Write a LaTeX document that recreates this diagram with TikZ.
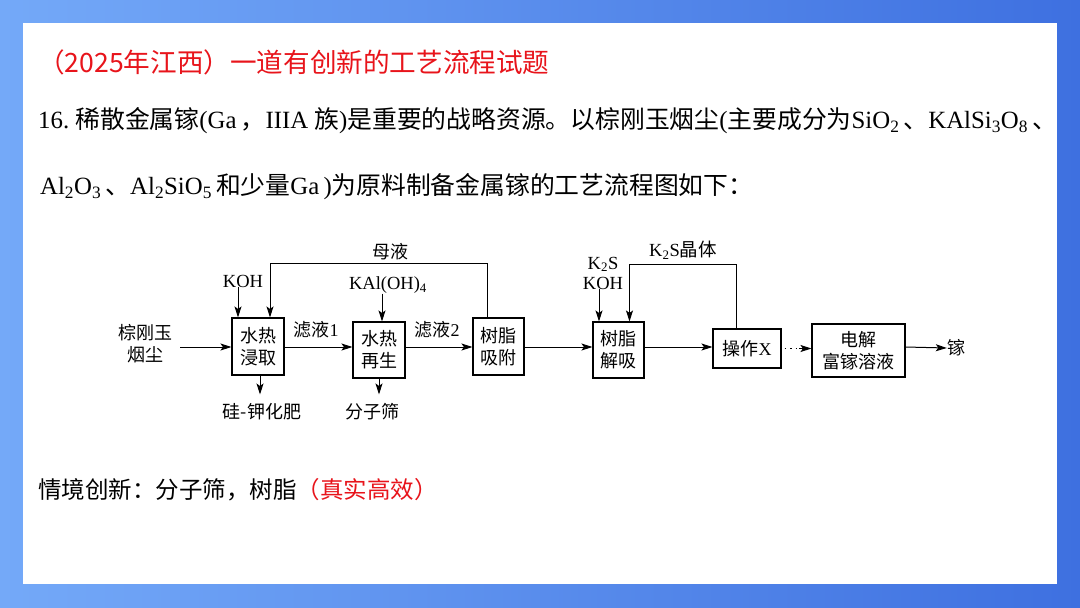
\documentclass[tikz,border=0pt]{standalone}
\usepackage{fontspec}
\setmainfont{Liberation Serif}
\newfontfamily\cjk{Noto Sans CJK SC}
\usetikzlibrary{arrows.meta}
\definecolor{titlered}{HTML}{E8141B}
\definecolor{bgleft}{HTML}{74A9F8}
\definecolor{bgright}{HTML}{3E70E0}
\newcommand{\zh}[1]{{\cjk #1}}
\newcommand{\chsub}[1]{\textsubscript{#1}}
\tikzset{
  proc/.style={draw, line width=1.1pt, align=center, inner sep=0pt, font=\fontsize{18}{22}\selectfont\cjk},
  lbl/.style={inner sep=0pt, align=center, font=\fontsize{18.5}{20}\selectfont},
  arr/.style={line width=1pt, -{Stealth[length=11pt,width=7pt,inset=2.5pt]}},
  qtext/.style={anchor=west, inner sep=0pt, font=\fontsize{24.8}{28}\selectfont},
}
\begin{document}
\begin{tikzpicture}[x=1pt,y=-1pt]
  % background and panel
  \shade[left color=bgleft, right color=bgright] (0,0) rectangle (1080,608);
  \fill[white] (23,23) rectangle (1057,584);
  \useasboundingbox (0,0) rectangle (1080,608);

  % heading and question
  \node[anchor=west, inner sep=0pt, text=titlered, font=\fontsize{26.6}{30}\selectfont\cjk] (title) at (38,62) {（2025年江西）一道有创新的工艺流程试题};
  \node[qtext] (q1) at (38,121) {16.\ \zh{稀散金属镓}(Ga\,\zh{，}IIIA \zh{族})\zh{是重要的战略资源。以棕刚玉烟尘}(\zh{主要成分为}SiO\chsub{2}\,\zh{、}KAlSi\chsub{3}O\chsub{8}\,\zh{、}};
  \node[qtext] (q2) at (40,187) {Al\chsub{2}O\chsub{3}\,\zh{、}Al\chsub{2}SiO\chsub{5}\,\zh{和少量}Ga\,)\zh{为原料制备金属镓的工艺流程图如下：}};

  % flow sheet
  \coordinate (flow) at (0,347);
  \node[lbl, font=\fontsize{18}{22}\selectfont\cjk] (dust) at (145,344) {棕刚玉\\烟尘};
  \node[proc, minimum width=52pt, minimum height=57pt] (leach) at (258,346.5) {水热\\浸取};
  \node[proc, minimum width=52pt, minimum height=56pt] (regen) at (379,350) {水热\\再生};
  \node[proc, minimum width=51pt, minimum height=57pt] (adsorb) at (498.5,346.5) {树脂\\吸附};
  \node[proc, minimum width=51pt, minimum height=56pt] (desorb) at (618.5,350) {树脂\\解吸};
  \node[proc, minimum width=68pt, minimum height=39pt] (opx) at (747,348.5) {操作{\rmfamily X}};
  \node[proc, minimum width=93pt, minimum height=53pt] (elec) at (858.5,350.5) {电解\\富镓溶液};
  \node[lbl, font=\fontsize{18}{22}\selectfont\cjk] (ga) at (956,348) {镓};

  \node[lbl] (koh1) at (243,281) {KOH};
  \node[lbl] (kal) at (388,285) {KAl(OH)\chsub{4}};
  \node[lbl] (kk) at (603,273) {K\chsub{2}S\\KOH};
  \node[lbl, font=\fontsize{18}{20}\selectfont\cjk] (mother) at (390,252) {母液};
  \node[lbl] (crystal) at (683,250) {K\chsub{2}S\zh{晶体}};
  \node[lbl, font=\fontsize{18}{20}\selectfont\cjk] (f1) at (316,330) {滤液{\rmfamily 1}};
  \node[lbl, font=\fontsize{18}{20}\selectfont\cjk] (f2) at (437,330) {滤液{\rmfamily 2}};
  \node[lbl, font=\fontsize{18}{20}\selectfont\cjk] (fert) at (262,412) {硅-钾化肥};
  \node[lbl, font=\fontsize{18}{20}\selectfont\cjk] (sieve) at (372,412) {分子筛};

  \draw[arr] ([xshift=8pt]dust.east |- flow) -- (leach.west |- flow);
  \draw[arr] (leach.east |- flow) -- (regen.west |- flow);
  \draw[arr] (regen.east |- flow) -- (adsorb.west |- flow);
  \draw[arr] (adsorb.east |- flow) -- (desorb.west |- flow);
  \draw[arr] (desorb.east |- flow) -- (opx.west |- flow);
  \draw[line width=1.3pt, dash pattern=on 1.5pt off 4pt] ([xshift=3pt]opx.east) -- ([xshift=-12pt]elec.west |- opx.east);
  \draw[arr] ([xshift=-12pt]elec.west |- opx.east) -- (elec.west |- opx.east);
  \draw[arr] (elec.east |- flow) -- (ga.west);

  \draw[arr] ([xshift=-5pt]koh1.south) -- ([xshift=-5pt]koh1.south |- leach.north);
  \draw[arr] ([xshift=-6pt]kal.south) -- ([xshift=-6pt]kal.south |- regen.north);
  \draw[arr] ([xshift=-4pt]kk.south) -- ([xshift=-4pt]kk.south |- desorb.north);
  \draw[arr] ([xshift=2pt]leach.south) -- ([xshift=2pt,yshift=9pt]leach.south |- fert.north);
  \draw[arr] (regen.south) -- ([yshift=9pt]regen.south |- sieve.north);
  \draw[arr] ([xshift=-11pt]adsorb.north) |- ([yshift=-3pt]mother.south) -| ([xshift=12pt]leach.north);
  \draw[arr] ([xshift=-11pt]opx.north) |- ([yshift=-5pt]crystal.south) -| ([xshift=11pt]desorb.north);

  % remark
  \node[anchor=west, inner sep=0pt, font=\fontsize{23.5}{28}\selectfont\cjk] (remark) at (38,490) {情境创新：分子筛，树脂\textcolor{titlered}{（真实高效）}};
\end{tikzpicture}
\end{document}
